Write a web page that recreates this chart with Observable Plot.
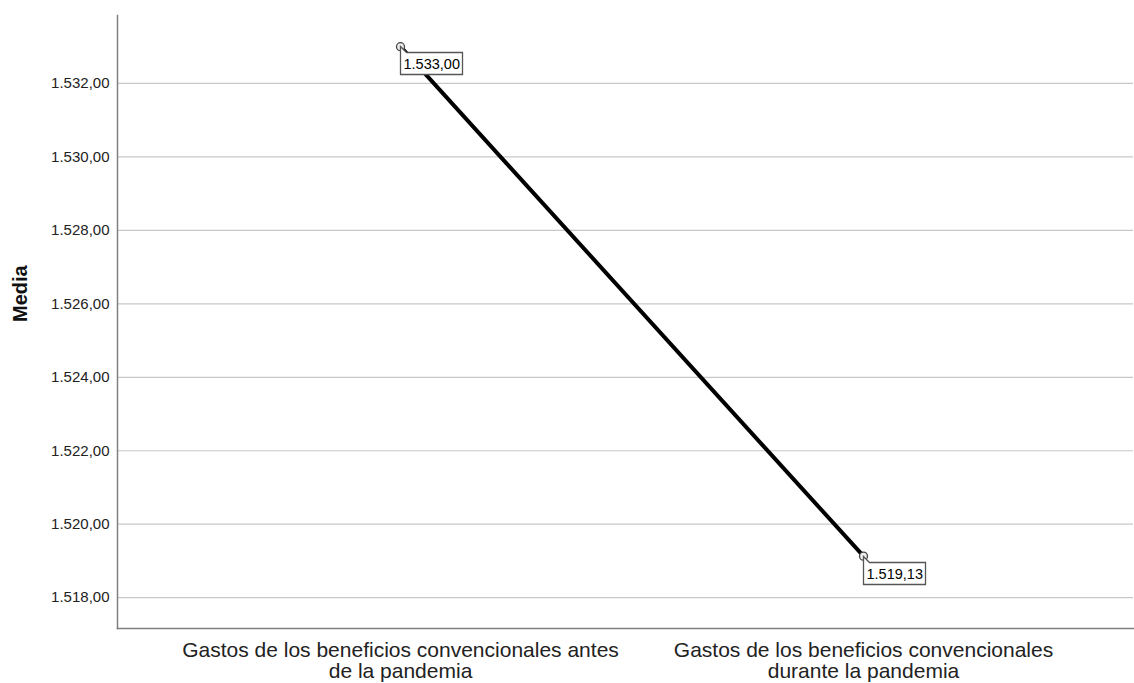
<!DOCTYPE html>
<html>
<head>
<meta charset="utf-8">
<script src="https://cdn.jsdelivr.net/npm/d3@7"></script>
<script src="https://cdn.jsdelivr.net/npm/@observablehq/plot@0.6"></script>
<style>
  html, body { margin: 0; padding: 0; background: #fff; }
  #chart svg { display: block; font-family: "Liberation Sans", Arial, sans-serif; }
</style>
</head>
<body>
<div id="chart"></div>
<script>
const categories = [
  "Gastos de los beneficios convencionales antes\nde la pandemia",
  "Gastos de los beneficios convencionales\ndurante la pandemia"
];
const means = [1533.00, 1519.13];
const yTicks = [1518, 1520, 1522, 1524, 1526, 1528, 1530, 1532];
const yDomain = [1517.16, 1533.85];

const data = categories.map((c, i) => ({category: c, value: means[i]}));
const es = d3.formatLocale({decimal: ",", thousands: ".", grouping: [3], currency: ["", "€"]});
const fmt = es.format(",.2f");

const plot = Plot.plot({
  width: 1134,
  height: 683,
  marginTop: 15,
  marginLeft: 117,
  marginRight: 1,
  marginBottom: 55,
  style: {fontFamily: "Liberation Sans, Arial, sans-serif", background: "#fff"},
  x: {type: "point", domain: categories, padding: 0.597, align: 0.512, label: null},
  y: {domain: yDomain, label: null},
  marks: [
    Plot.gridY(yTicks, {stroke: "#c8c8c8", strokeOpacity: 1, strokeWidth: 1.2}),
    Plot.frame({anchor: "bottom", stroke: "#808080", strokeWidth: 1.5}),
    Plot.frame({anchor: "left", stroke: "#808080", strokeWidth: 1.5}),
    Plot.axisY({ticks: yTicks, tickSize: 0, tickPadding: 8, tickFormat: fmt, fontSize: 15, fill: "#222", label: null}),
    Plot.axisX({tickSize: 0, tickPadding: 13.5, fontSize: 21, fill: "#222", label: null, lineHeight: 1.0}),
    Plot.text(["Media"], {frameAnchor: "left", rotate: -90, dx: -97, fontWeight: "bold", fontSize: 20, fill: "#111"}),
    Plot.line(data, {x: "category", y: "value", stroke: "#000", strokeWidth: 4}),
    Plot.dot(data, {x: "category", y: "value", r: 4, fill: "#eeeeee", stroke: "#444", strokeWidth: 1.3}),
    Plot.tip(data, {
      x: "category", y: "value",
      title: d => fmt(d.value),
      anchor: "top-left",
      fill: "white", stroke: "#555", strokeWidth: 1.3,
      pointerSize: 6, textPadding: 3, lineHeight: 1.5, fontSize: 14.5,
      pathFilter: "none", textColor: "#000"
    })
  ]
});
document.getElementById("chart").append(plot);
</script>
</body>
</html>
